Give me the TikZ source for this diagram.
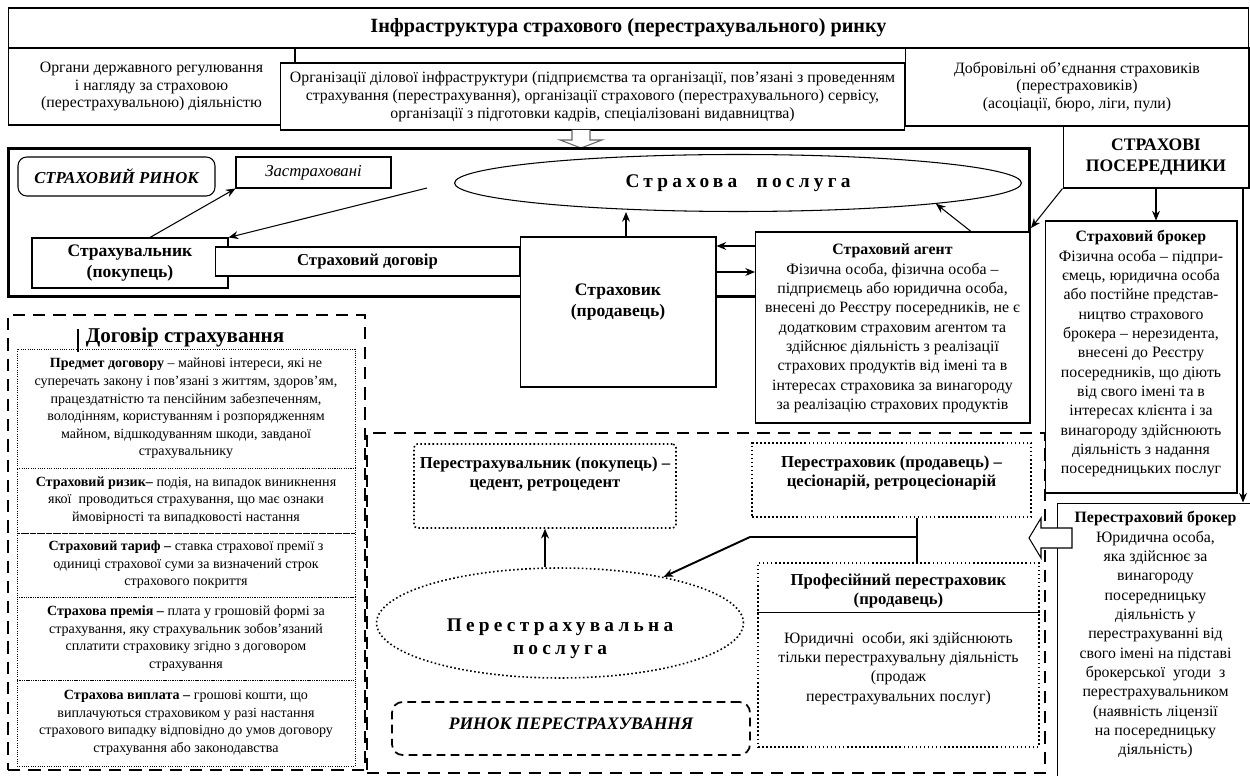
\documentclass[tikz,border=0pt]{standalone}
\usepackage{fontspec}
\setmainfont{Liberation Serif}
\newfontfamily\spacedfont[LetterSpace=22]{Liberation Serif}
\usetikzlibrary{positioning,arrows.meta,shapes.geometric}

\tikzset{
  sz/.style 2 args={minimum width=#1cm, minimum height=#2cm},
  box/.style={draw, fill=white, inner sep=0pt, align=center},
  dotbox/.style={draw, fill=white, inner sep=0pt, align=center, line width=0.9pt, dash pattern=on 0.9pt off 1.4pt},
  thindot/.style={draw, inner sep=0pt, align=center, line width=0.5pt, dash pattern=on 0.5pt off 0.8pt, font=\fontsize{8}{10}\selectfont},
  bigdash/.style={draw, inner sep=0pt, line width=1.5pt, dash pattern=on 7pt off 4.5pt},
  txt/.style={align=center, inner sep=0pt},
  main/.style={font=\fontsize{9}{11}\selectfont},
  top/.style={font=\fontsize{9}{10.2}\selectfont},
  head/.style={font=\bfseries\fontsize{10}{11.5}\selectfont},
  subhead/.style={font=\bfseries\fontsize{9.5}{11}\selectfont},
  spaced/.style={font=\spacedfont\bfseries\fontsize{11}{13}\selectfont},
}

\begin{document}
\begin{tikzpicture}[x=0.02cm,y=-0.02cm,>={Stealth[length=5.5pt,width=4.5pt]},line width=0.6pt]
  \useasboundingbox (0,0) rectangle (1250,776);
  \clip (0,0) rectangle (1250,776);

  % infrastructure
  \node[box, sz={24.82}{0.8}, font=\bfseries\fontsize{11.5}{13}\selectfont] (infra) at (628.5,28)
    {Інфраструктура страхового (перестрахувального) ринку};
  \node[box, top, sz={5.74}{1.54}] (state) at (151.5,86.5)
    {Органи державного регулювання\\і нагляду за страховою\\(перестрахувальною) діяльністю};
  \node[box, top, sz={6.88}{1.56}] (unions) at (1077,87)
    {Добровільні об’єднання страховиків\\(перестраховиків)\\(асоціації, бюро, ліги, пули)};
  \node[box, top, sz={12.5}{1.34}] (orgs) at (592.5,96.5)
    {Організації ділової інфраструктури (підприємства та організації, пов’язані з проведенням\\
     страхування (перестрахування), організації страхового (перестрахувального) сервісу,\\
     організації з підготовки кадрів, спеціалізовані видавництва)};
  \coordinate (drop) at (581,130);
  \draw[black!60, fill=white] (drop) ++(-9,0) -- ++(0,10) -- ++(-12,0) -- ++(21,8) -- ++(21,-8) -- ++(-12,0) -- ++(0,-10);

  % reinsurance and contract frames
  \node[bigdash, sz={7.14}{9.1}] (contract) at (186.5,542.5) {};
  \node[bigdash, sz={13.56}{6.8}] (remarket) at (706,603) {};

  % insurance market
  \node[draw, line width=1.7pt, inner sep=0pt, sz={20.44}{2.98}] (market) at (519,222.5) {};
  \node[draw, rounded corners=5pt, inner sep=0pt, sz={3.94}{0.78},
        font=\bfseries\itshape\fontsize{9.5}{11}\selectfont] (mlabel) at (116.5,176.5) {СТРАХОВИЙ РИНОК};
  \node[box, sz={3.1}{0.62}, font=\itshape\fontsize{9.5}{11}\selectfont] (insured) at (313.5,172.5) {Застраховані};
  \node[draw, ellipse, minimum width=11.34cm, minimum height=1.14cm, inner sep=0pt, spaced] (service)
    at (738,183) {Страхова\enspace\enspace послуга};
  \node[box, head, sz={3.92}{1.0}] (insurant) at (130,263) {Страхувальник\\(покупець)};
  \node[box, subhead, sz={6.1}{0.58}] (deal) at (367.5,261.5) {Страховий договір};
  \node[box, sz={3.92}{3.0}] (insurer) at (618,312) {};
  \node[txt, head, yshift=0.2cm] (insurertxt) at (insurer.center) {Страховик\\(продавець)};
  \node[box, sz={5.5}{3.82}] (agent) at (892.5,327.5) {};
  \node[txt, main, below=0.24cm of agent.north] (agenttxt)
    {\textbf{Страховий агент}\\Фізична особа, фізична особа –\\підприємець або юридична особа,\\
     внесені до Реєстру посередників, не є\\додатковим страховим агентом та\\
     здійснює діяльність з реалізації\\страхових продуктів від імені та в\\
     інтересах страховика за винагороду\\за реалізацію страхових продуктів};

  \coordinate (cfree) at (427,188);
  \coordinate (a1) at (755,246);
  \coordinate (a2) at (755,272);
  \draw[->] ([xshift=0.4cm]insurant.north) -- (insured.south west);
  \draw[->] (cfree) -- (insurant.north east);
  \draw[->] ([xshift=0.16cm]insurer.north) -- ([xshift=0.16cm]insurer.north |- service.south);
  \draw[->] (a1) -- (a1 -| insurer.east);
  \draw[->] (a2 -| insurer.east) -- (a2);
  \draw[->] ([xshift=1.57cm]agent.north) -- (service.-6);

  % intermediaries
  \node[box, sz={3.72}{1.24}, font=\bfseries\fontsize{10}{11.5}\selectfont] (intermed) at (1156,157)
    {СТРАХОВІ\\ПОСЕРЕДНИКИ};
  \node[box, sz={3.84}{5.44}] (broker) at (1141,357) {};
  \node[txt, main, below=0.19cm of broker.north] (brokertxt)
    {\textbf{Страховий брокер}\\Фізична особа – підпри-\\ємець, юридична особа\\або постійне представ-\\
     ництво страхового\\брокера – нерезидента,\\внесені до Реєстру\\посередників, що діють\\
     від свого імені та в\\інтересах клієнта і за\\винагороду здійснюють\\діяльність з надання\\
     посередницьких послуг};
  \node[box, sz={4.1}{5.74}] (rebroker) at (1159.5,646.5) {};
  \node[txt, main, below=0.17cm of rebroker.north, xshift=-0.08cm] (rebrokertxt)
    {\textbf{Перестраховий брокер}\\Юридична особа,\\яка здійснює за\\винагороду\\посередницьку\\
     діяльність у\\перестрахуванні від\\свого імені на підставі\\брокерської\ \ угоди\ \ з\\
     перестрахувальником\\(наявність ліцензії\\на посередницьку\\діяльність)};

  \coordinate (m1) at (1031,228);
  \coordinate (r0) at (1243,188);
  \draw[->] (intermed.south west) -- (m1);
  \draw[->] (intermed.south) -- (intermed.south |- broker.north);
  \draw[->] (r0) -- (r0 |- rebroker.north);
  \coordinate (harrow) at (1072,538);
  \draw[fill=white] (harrow) ++(0,-10) -- ++(-31,0) -- ++(0,-10) -- ++(-12,20) -- ++(12,20) -- ++(0,-10) -- ++(31,0) -- cycle;

  % contract terms
  \node[inner sep=0pt, font=\bfseries\fontsize{12}{14}\selectfont] (ctitle) at (185,337) {Договір страхування};
  \draw[line width=0.8pt] (78,329) -- (78,352);
  \node[thindot, sz={6.76}{2.38}] (subject) at (186,408.5)
    {\textbf{Предмет договору} – майнові інтереси, які не\\суперечать закону і пов’язані з життям, здоров’ям,\\
     працездатністю та пенсійним забезпеченням,\\володінням, користуванням і розпорядженням\\
     майном, відшкодуванням шкоди, завданої\\страхувальнику};
  \node[thindot, sz={6.76}{1.3}] (risk) at (186,500.5)
    {\textbf{Страховий ризик–} подія, на випадок виникнення\\якої\ \ проводиться страхування, що має ознаки\\
     ймовірності та випадковості настання};
  \node[thindot, sz={6.76}{1.28}] (tariff) at (186,565)
    {\textbf{Страховий тариф –} ставка страхової премії з\\одиниці страхової суми за визначений строк\\
     страхового покриття};
  \node[thindot, sz={6.76}{1.66}] (premium) at (186,638.5)
    {\textbf{Страхова премія –} плата у грошовій формі за\\страхування, яку страхувальник зобов’язаний\\
     сплатити страховику згідно з договором\\страхування};
  \node[thindot, sz={6.76}{1.72}] (payment) at (186,723)
    {\textbf{Страхова виплата –} грошові кошти, що\\виплачуються страховиком у разі настання\\
     страхового випадку відповідно до умов договору\\страхування або законодавства};

  % reinsurance market
  \node[dotbox, rounded corners=2pt, sz={5.24}{1.68}] (cedent) at (545,486) {};
  \node[txt, subhead, below=0.26cm of cedent.north] (cedenttxt)
    {Перестрахувальник (покупець) –\\цедент, ретроцедент};
  \node[dotbox, ellipse, minimum width=7.34cm, minimum height=2.2cm] (reserv) at (560,623) {};
  \node[txt, spaced, below=-0.1cm of reserv.center] (reservtxt) {Перестрахувальна\\послуга};
  \node[draw, line width=1pt, dash pattern=on 5pt off 3pt, rounded corners=6pt, inner sep=0pt,
        sz={7.16}{1.06}] (rlabel) at (571,728.5) {};
  \node[txt, font=\bfseries\itshape\fontsize{10}{12}\selectfont, yshift=0.1cm] (rlabeltxt)
    at (rlabel.center) {РИНОК ПЕРЕСТРАХУВАННЯ};
  \node[dotbox, sz={5.58}{1.48}] (cession) at (891.5,480) {};
  \node[txt, subhead, below=0.26cm of cession.north] (cessiontxt)
    {Перестраховик (продавець) –\\цесіонарій, ретроцесіонарій};
  \node[dotbox, sz={5.62}{3.68}] (pro) at (898.5,655) {};
  \draw ([yshift=-1cm]pro.north west) -- ([yshift=-1cm]pro.north east);
  \node[txt, subhead, below=0.22cm of pro.north] (protitle) {Професійний перестраховик\\(продавець)};
  \node[txt, main, below=1.38cm of pro.north] (probody)
    {Юридичні\ \ особи, які здійснюють\\тільки перестрахувальну діяльність\\(продаж\\перестрахувальних послуг)};

  \coordinate (split) at (917,537);
  \coordinate (bend) at (750,537);
  \draw[line width=1.1pt] (cession.south -| split) -- (pro.north -| split);
  \draw[->, line width=1.1pt] (split) -- (bend) -- (reserv.24);
  \draw[->, line width=1.1pt] (cedent.south |- reserv.north) -- (cedent.south);
\end{tikzpicture}
\end{document}
